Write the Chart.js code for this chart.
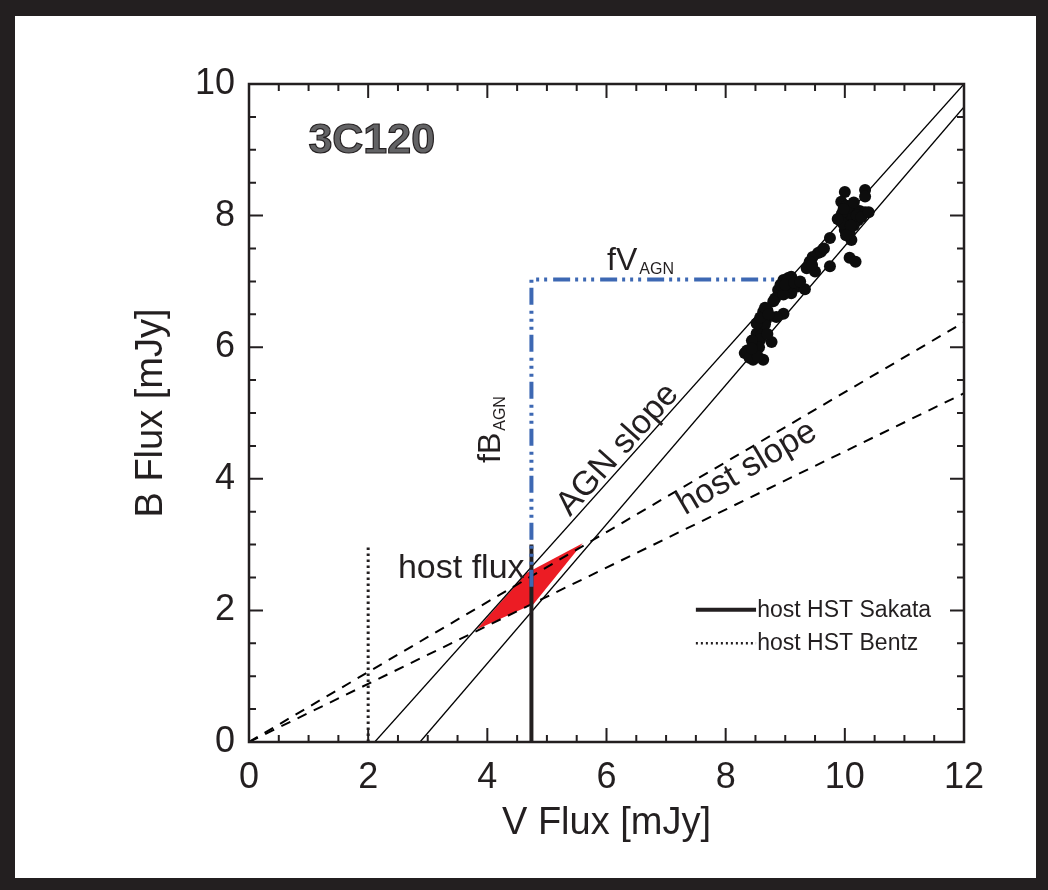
<!DOCTYPE html>
<html>
<head>
<meta charset="utf-8">
<script src="https://cdn.jsdelivr.net/npm/chart.js@4.4.1/dist/chart.umd.min.js"></script>
<style>
  html, body { margin: 0; padding: 0; background: #231f20; }
  canvas { display: block; }
</style>
</head>
<body>
<canvas id="fluxchart" width="1048" height="890"></canvas>
<script>
// truc toa do
const xTicks = [0, 2, 4, 6, 8, 10, 12];
const yTicks = [0, 2, 4, 6, 8, 10];
const minorStep = 0.5;

// diem quan sat 3C120 (V, B) doc tu hinh
const monitorV = [
  10.00, 10.34, 10.34, 9.94, 10.03, 10.12, 10.25, 10.34, 9.92, 10.06,
  10.22, 9.95, 10.00, 10.08, 10.11, 9.97, 10.15, 9.75, 10.08, 10.18,
  10.05, 10.20, 10.28, 9.98, 10.10, 10.02, 10.40, 10.15, 9.88,
  9.55, 9.46, 9.41, 9.75, 9.36, 9.50, 9.10, 8.97, 9.05, 9.19,
  8.88, 9.10, 9.33, 9.02, 8.83, 8.97, 8.92, 9.00, 9.15, 9.25,
  8.80, 9.60, 9.65, 9.45,
  8.63, 8.70, 8.97, 8.85, 8.68, 8.57, 8.62, 8.52, 8.60, 8.77,
  8.55, 8.48, 8.41, 8.32, 8.47, 8.38, 8.46, 8.63, 8.58, 8.66,
  8.50, 8.56, 8.36, 8.44, 8.52, 8.58, 8.66, 8.72, 8.40, 8.54,
  8.70, 8.44
];
const monitorB = [
  8.36, 8.39, 8.29, 8.21, 8.15, 8.10, 8.07, 8.05, 7.93, 7.98,
  7.93, 8.03, 7.78, 7.73, 7.63, 7.88, 7.85, 7.66, 7.36, 7.30,
  8.12, 8.00, 7.98, 8.10, 7.85, 7.70, 8.05, 8.20, 7.95,
  7.43, 7.37, 7.30, 7.23, 7.20, 7.15, 7.07, 7.02, 7.05, 6.92,
  6.87, 6.82, 6.88, 6.88, 6.74, 6.80, 6.95, 6.95, 6.98, 7.00,
  6.70, 7.45, 7.50, 7.25,
  6.54, 6.56, 6.51, 6.46, 6.42, 6.31, 6.30, 6.21, 6.18, 6.08,
  6.06, 6.03, 5.96, 5.91, 5.88, 5.88, 5.81, 5.81, 6.12, 6.35,
  5.95, 6.00, 5.95, 6.10, 6.36, 6.45, 6.60, 6.50, 5.84, 5.86,
  6.20, 5.98
];

// duong AGN slope
const agnUpperV = [2.11, 12];
const agnUpperB = [0, 10];
const agnLowerV = [2.87, 12];
const agnLowerB = [0, 9.65];

// duong host slope (net dut)
const hostUpperV = [0, 12];
const hostUpperB = [0, 6.38];
const hostLowerV = [0, 12];
const hostLowerB = [0, 5.30];

// vung do host flux
const regionV = [3.82, 4.66, 5.60, 4.78, 3.82];
const regionB = [1.71, 2.57, 3.02, 2.10, 1.71];

// host HST Sakata / Bentz
const sakataV = [4.74, 4.74];
const sakataB = [0, 3.0];
const bentzV = [2, 2];
const bentzB = [0, 3.0];

// fV_AGN, fB_AGN
const agnFluxV = [4.74, 4.74, 9.19];
const agnFluxB = [2.36, 7.03, 7.03];

const INK = "#231f20";
const FONT = "'Liberation Sans', Arial, sans-serif";

const pts = (vs, bs) => vs.map((v, i) => ({ x: v, y: bs[i] }));

const lineSet = (vs, bs, extra) =>
  Object.assign(
    {
      data: pts(vs, bs),
      showLine: true,
      pointRadius: 0,
      borderColor: "#000",
      borderWidth: 1.3,
      fill: false,
      order: 5,
    },
    extra
  );

// khung den + truc co vach chia huong vao trong
const frameAndTicks = {
  id: "frameAndTicks",
  beforeDraw(chart) {
    const { ctx, width, height } = chart;
    ctx.save();
    ctx.fillStyle = INK;
    ctx.fillRect(0, 0, width, height);
    ctx.fillStyle = "#fff";
    ctx.fillRect(15, 16, width - 27, height - 28);
    ctx.restore();
  },
  afterDraw(chart) {
    const { ctx, chartArea: a, scales } = chart;
    const sx = scales.x, sy = scales.y;
    ctx.save();
    ctx.strokeStyle = INK;
    ctx.lineWidth = 2;
    for (let v = sx.min; v <= sx.max + 1e-9; v += minorStep) {
      const px = sx.getPixelForValue(v);
      const len = xTicks.includes(v) ? 14 : 7;
      ctx.beginPath();
      ctx.moveTo(px, a.bottom); ctx.lineTo(px, a.bottom - len);
      ctx.moveTo(px, a.top); ctx.lineTo(px, a.top + len);
      ctx.stroke();
    }
    for (let v = sy.min; v <= sy.max + 1e-9; v += minorStep) {
      const py = sy.getPixelForValue(v);
      const len = yTicks.includes(v) ? 14 : 7;
      ctx.beginPath();
      ctx.moveTo(a.left, py); ctx.lineTo(a.left + len, py);
      ctx.moveTo(a.right, py); ctx.lineTo(a.right - len, py);
      ctx.stroke();
    }
    ctx.lineWidth = 2.5;
    ctx.strokeRect(a.left, a.top, a.right - a.left, a.bottom - a.top);
    ctx.restore();
  },
};

// chu thich tren hinh
const labelsPlugin = {
  id: "labelsPlugin",
  afterDatasetsDraw(chart) {
    const { ctx, scales } = chart;
    const X = (v) => scales.x.getPixelForValue(v);
    const Y = (b) => scales.y.getPixelForValue(b);
    const angleOf = (vs, bs) =>
      Math.atan2(Y(bs[1]) - Y(bs[0]), X(vs[1]) - X(vs[0]));

    ctx.save();
    ctx.fillStyle = INK;

    // 3C120
    ctx.font = "bold 43px " + FONT;
    ctx.textAlign = "center";
    ctx.textBaseline = "middle";
    ctx.fillStyle = "#636365";
    ctx.strokeStyle = INK;
    ctx.lineWidth = 1.2;
    ctx.fillText("3C120", X(2.06), Y(9.13));
    ctx.strokeText("3C120", X(2.06), Y(9.13));
    ctx.fillStyle = INK;

    // fV_AGN
    ctx.textAlign = "left";
    ctx.textBaseline = "alphabetic";
    ctx.font = "32px " + FONT;
    ctx.fillText("fV", X(6.01), Y(7.17));
    let w = ctx.measureText("fV").width;
    ctx.font = "16px " + FONT;
    ctx.fillText("AGN", X(6.01) + w + 2, Y(7.17) + 4);

    // fB_AGN (xoay doc)
    ctx.save();
    ctx.translate(X(4.21), Y(4.24));
    ctx.rotate(-Math.PI / 2);
    ctx.font = "32px " + FONT;
    ctx.fillText("fB", 0, 0);
    w = ctx.measureText("fB").width;
    ctx.font = "16px " + FONT;
    ctx.fillText("AGN", w + 2, 5);
    ctx.restore();

    // AGN slope
    ctx.save();
    ctx.translate(X(6.19), Y(4.44));
    ctx.rotate(angleOf(agnUpperV, agnUpperB));
    ctx.font = "34px " + FONT;
    ctx.textAlign = "center";
    ctx.textBaseline = "middle";
    ctx.fillText("AGN slope", 0, 0);
    ctx.restore();

    // host slope
    ctx.save();
    ctx.translate(X(8.36), Y(4.16));
    ctx.rotate(angleOf(hostUpperV, hostUpperB));
    ctx.font = "34px " + FONT;
    ctx.textAlign = "center";
    ctx.textBaseline = "middle";
    ctx.fillText("host slope", 0, 0);
    ctx.restore();

    // host flux
    ctx.font = "34px " + FONT;
    ctx.textAlign = "left";
    ctx.fillText("host flux", X(2.5), Y(2.49));

    // legend
    ctx.strokeStyle = INK;
    ctx.lineWidth = 4;
    ctx.beginPath();
    ctx.moveTo(X(7.5), Y(2.01));
    ctx.lineTo(X(8.51), Y(2.01));
    ctx.stroke();
    ctx.lineWidth = 2.5;
    ctx.setLineDash([2, 3]);
    ctx.beginPath();
    ctx.moveTo(X(7.5), Y(1.5));
    ctx.lineTo(X(8.51), Y(1.5));
    ctx.stroke();
    ctx.setLineDash([]);
    ctx.font = "23px " + FONT;
    ctx.fillText("host HST Sakata", X(8.53), Y(1.9));
    ctx.fillText("host HST Bentz", X(8.53), Y(1.4));

    ctx.restore();
  },
};

const fluxChart = new Chart(document.getElementById("fluxchart"), {
  type: "scatter",
  data: {
    datasets: [
      {
        data: pts(monitorV, monitorB),
        pointRadius: 6,
        pointBackgroundColor: "#0d0d0d",
        pointBorderWidth: 0,
        order: 1,
      },
      lineSet(agnFluxV, agnFluxB, {
        borderColor: "#3d68b3",
        borderWidth: 4,
        borderDash: [17, 5, 3, 5, 3, 5, 3, 6],
        order: 2,
      }),
      lineSet(sakataV, sakataB, { borderColor: INK, borderWidth: 4, order: 3 }),
      lineSet(bentzV, bentzB, { borderColor: INK, borderWidth: 3, borderDash: [2.5, 3.5], order: 3 }),
      lineSet(agnUpperV, agnUpperB),
      lineSet(agnLowerV, agnLowerB),
      lineSet(hostUpperV, hostUpperB, { borderWidth: 2, borderDash: [10, 8] }),
      lineSet(hostLowerV, hostLowerB, { borderWidth: 2, borderDash: [10, 8] }),
      lineSet(regionV, regionB, {
        borderWidth: 0,
        borderColor: "rgba(0,0,0,0)",
        backgroundColor: "#ec1c24",
        fill: "shape",
        tension: 0,
        order: 10,
      }),
    ],
  },
  options: {
    responsive: false,
    animation: false,
    layout: { padding: { left: 0, top: 84, right: 84, bottom: 0 } },
    plugins: { legend: { display: false }, tooltip: { enabled: false } },
    scales: {
      x: {
        type: "linear",
        min: 0,
        max: 12,
        afterBuildTicks: (s) => { s.ticks = xTicks.map((v) => ({ value: v })); },
        afterFit: (s) => { s.height = 148; },
        grid: { display: false, drawTicks: false },
        border: { display: false },
        ticks: { color: INK, font: { size: 36, family: FONT }, padding: 14, maxRotation: 0 },
        title: {
          display: true,
          text: "V Flux [mJy]",
          color: INK,
          font: { size: 38, family: FONT },
          padding: { top: 0, bottom: 44 },
        },
      },
      y: {
        type: "linear",
        min: 0,
        max: 10,
        afterBuildTicks: (s) => { s.ticks = yTicks.map((v) => ({ value: v })); },
        afterFit: (s) => { s.width = 249; },
        grid: { display: false, drawTicks: false },
        border: { display: false },
        ticks: { color: INK, font: { size: 36, family: FONT }, padding: 14 },
        title: {
          display: true,
          text: "B Flux [mJy]",
          color: INK,
          font: { size: 38, family: FONT },
          padding: { top: 129, bottom: 0 },
        },
      },
    },
  },
  plugins: [frameAndTicks, labelsPlugin],
});
</script>
</body>
</html>
